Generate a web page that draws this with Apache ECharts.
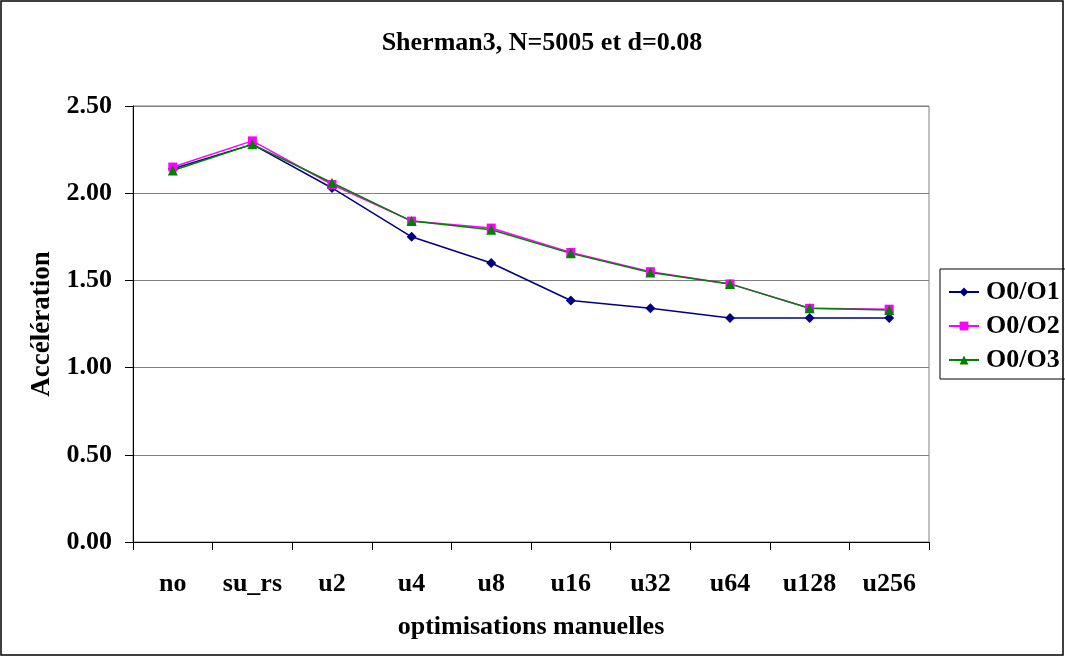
<!DOCTYPE html>
<html>
<head>
<meta charset="utf-8">
<script src="https://cdn.jsdelivr.net/npm/echarts@6/dist/echarts.min.js"></script>
<style>
html,body{margin:0;padding:0;background:#fff;}
#chart{width:1065px;height:656px;}
</style>
</head>
<body>
<div id="chart"></div>
<script>
const categories = ['no', 'su_rs', 'u2', 'u4', 'u8', 'u16', 'u32', 'u64', 'u128', 'u256'];
const o0o1 = [2.14, 2.28, 2.03, 1.75, 1.60, 1.385, 1.34, 1.285, 1.285, 1.285];
const o0o2 = [2.15, 2.30, 2.05, 1.84, 1.80, 1.66, 1.55, 1.48, 1.34, 1.335];
const o0o3 = [2.13, 2.28, 2.06, 1.84, 1.79, 1.655, 1.545, 1.48, 1.34, 1.33];
const seriesNames = ['O0/O1', 'O0/O2', 'O0/O3'];
const yTicks = { min: 0, max: 2.5, interval: 0.5 };

const FONT = '"Liberation Serif", "Times New Roman", serif';
const chart = echarts.init(document.getElementById('chart'), null, { renderer: 'canvas' });

function mk(name, data, color, symbol, size) {
  return {
    name: name, type: 'line', data: data,
    symbol: symbol, symbolSize: size,
    lineStyle: { color: color, width: 1.5 },
    itemStyle: { color: color },
    emphasis: { disabled: true },
    animation: false
  };
}

chart.setOption({
  animation: false,
  backgroundColor: '#fff',
  title: {
    text: 'Sherman3, N=5005 et d=0.08',
    left: 537, top: 25, textAlign: 'center',
    textStyle: { fontFamily: FONT, fontWeight: 'bold', fontSize: 26, color: '#000' }
  },
  graphic: [{
    type: 'rect', shape: { x: 1, y: 1, width: 1062, height: 654 },
    style: { fill: 'none', stroke: '#000', lineWidth: 1.5 }, z: 100
  }],
  legend: {
    orient: 'vertical',
    left: 940, top: 269,
    padding: [10, 7, 6, 8],
    itemGap: 8,
    itemWidth: 30, itemHeight: 11,
    borderColor: '#000', borderWidth: 1,
    backgroundColor: '#fff',
    textStyle: { fontFamily: FONT, fontWeight: 'bold', fontSize: 26, color: '#000', padding: [0, 0, 0, 2] },
    data: seriesNames
  },
  grid: {
    left: 133, right: 136, top: 106, bottom: 114,
    show: true, borderColor: '#808080', borderWidth: 1,
    containLabel: false
  },
  xAxis: {
    type: 'category', data: categories, boundaryGap: true,
    name: 'optimisations manuelles', nameLocation: 'middle', nameGap: 72,
    nameTextStyle: { fontFamily: FONT, fontWeight: 'bold', fontSize: 26, color: '#000' },
    axisLine: { lineStyle: { color: '#000', width: 1 } },
    axisTick: { show: true, length: 8, lineStyle: { color: '#000' } },
    axisLabel: { fontFamily: FONT, fontWeight: 'bold', fontSize: 26, color: '#000', margin: 29 },
    splitLine: { show: false }
  },
  yAxis: {
    type: 'value', min: yTicks.min, max: yTicks.max, interval: yTicks.interval,
    name: 'Accélération', nameLocation: 'middle', nameGap: 76, nameRotate: 90,
    nameTextStyle: { fontFamily: FONT, fontWeight: 'bold', fontSize: 27, color: '#000' },
    axisLine: { show: true, lineStyle: { color: '#000', width: 1 } },
    axisTick: { show: true, length: 8, lineStyle: { color: '#000' } },
    axisLabel: { fontFamily: FONT, fontWeight: 'bold', fontSize: 26, color: '#000', margin: 21,
      formatter: v => v.toFixed(2) },
    splitLine: { show: true, lineStyle: { color: '#808080', width: 1 } }
  },
  series: [
    mk(seriesNames[0], o0o1, '#000080', 'diamond', 10),
    mk(seriesNames[1], o0o2, '#FF00FF', 'rect', 9),
    mk(seriesNames[2], o0o3, '#008000', 'triangle', 10)
  ]
});
</script>
</body>
</html>
